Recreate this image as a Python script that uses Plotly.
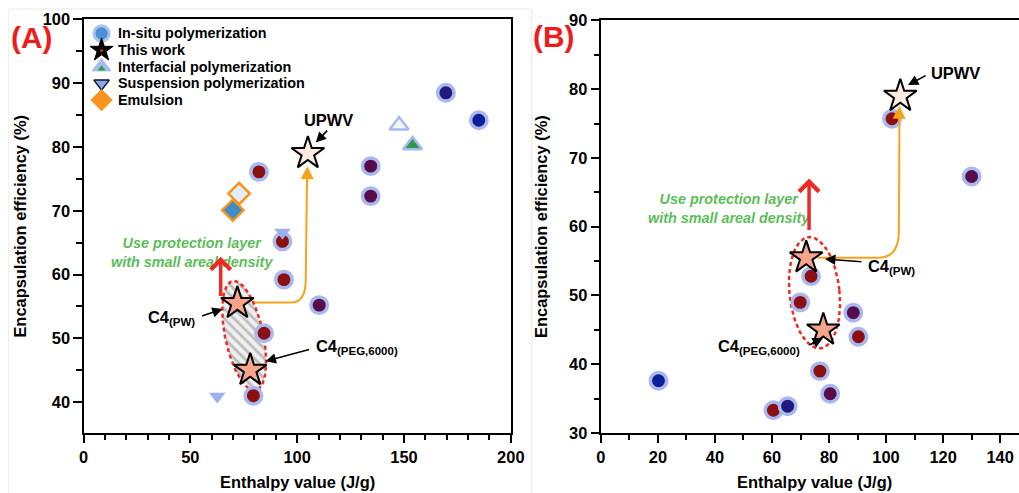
import numpy as np
import plotly.graph_objects as go

# Target box in pixels; all layout positions below are written in these
# pixels and mapped onto the plotly canvas through a small affine transform.
W, H = 1019, 493
SX, OX = 0.981, 4.5
SY, OY = 0.966, 8.5
FW = int(round((W - OX) / SX))
FH = int(round((H - OY) / SY))
SS = (SX + SY) / 2          # size factor for fonts and markers
FONT = "Liberation Sans"

# ---------------- data: panel (A) ----------------
a_insitu_red_x = [82.1, 93.1, 93.8, 84.5, 79.5]
a_insitu_red_y = [76.1, 65.2, 59.2, 50.8, 41.0]
a_insitu_purple_x = [110.3, 134.4, 134.4]
a_insitu_purple_y = [55.2, 77.0, 72.3]
a_insitu_navy_x = [169.6]
a_insitu_navy_y = [88.5]
a_insitu_blue_x = [185.0]
a_insitu_blue_y = [84.2]
a_interfacial_open_x = [147.7]
a_interfacial_open_y = [83.4]
a_interfacial_fill_x = [154.0]
a_interfacial_fill_y = [80.3]
a_suspension_x = [62.6, 93.1]
a_suspension_y = [40.9, 66.6]
a_emulsion_open_x = [72.8]
a_emulsion_open_y = [72.7]
a_emulsion_fill_x = [69.9]
a_emulsion_fill_y = [70.1]

# ---------------- data: panel (B) ----------------
b_insitu_red_x = [73.7, 69.9, 90.3, 76.8, 60.5, 102.1]
b_insitu_red_y = [52.8, 49.0, 44.0, 39.0, 33.3, 75.7]
b_insitu_purple_x = [88.5, 80.4, 130.0]
b_insitu_purple_y = [47.5, 35.7, 67.3]
b_insitu_navy_x = [65.5]
b_insitu_navy_y = [33.9]
b_insitu_blue_x = [20.2]
b_insitu_blue_y = [37.6]

# ---------------- this work (both panels) ----------------
work_names = ["C4(PW)", "C4(PEG,6000)", "UPWV"]
work_x = [72.0, 78.0, 105.0]
work_y = [55.5, 45.0, 79.0]

# ---------------- axes ----------------
a_xticks = [0, 50, 100, 150, 200]
a_yticks = [40, 50, 60, 70, 80, 90, 100]
b_xticks = [0, 20, 40, 60, 80, 100, 120, 140]
b_yticks = [30, 40, 50, 60, 70, 80, 90]

# pixel frames of the plot areas (left, right, top, bottom) and the axis
# values sitting on those frames
RIGHT_EDGE = OX + SX * FW
A_BOX = (83, 510, 19, 433)
B_BOX = (600, RIGHT_EDGE, 20, 433.3)
a_xrange, a_yrange = [0, 200], [35.2, 100]
b_xrange = [0, (RIGHT_EDGE - 600) / (399 / 140)]   # 0 at 600px, 140 at 999px
b_yrange = [30, 90]

RED = "#8a1012"
PURPLE = "#560d4a"
NAVY = "#211a7a"
BLUE = "#0b1f98"
HALO = "#a9b8ef"
ORANGE = "#f7a21b"
ARROW_RED = "#ec2b25"
GREEN = "#5cbd5a"
LIGHT = "#9cb0ec"


def fx(px):
    return min(1.0, max(0.0, (px - OX) / SX / FW))


def fy(py):
    return min(1.0, max(0.0, 1 - (py - OY) / SY / FH))


def sz(v):
    return v / SS


fig = go.Figure()


def scale(box, xr, yr):
    sx = (box[1] - box[0]) / (xr[1] - xr[0])
    sy = (box[3] - box[2]) / (yr[1] - yr[0])
    return sx, sy


def ellipse(cx, cy, a_px, b_px, tilt_deg, sx, sy, n=160):
    t = np.linspace(0, 2 * np.pi, n)
    th = np.radians(tilt_deg)
    lx, ly = b_px * np.cos(t), a_px * np.sin(t)
    px = lx * np.cos(th) + ly * np.sin(th)
    py = -lx * np.sin(th) + ly * np.cos(th)
    return cx + px / sx, cy - py / sy


def circles(x, y, color, xa, ya):
    fig.add_trace(go.Scatter(
        x=x, y=y, mode="markers", xaxis=xa, yaxis=ya, showlegend=False,
        marker=dict(symbol="circle", size=sz(16), color=color,
                    line=dict(color=HALO, width=3.5))))


def stars(xa, ya):
    fig.add_trace(go.Scatter(
        x=work_x, y=work_y, mode="markers", xaxis=xa, yaxis=ya,
        showlegend=False, text=work_names,
        marker=dict(symbol="star", size=sz(24),
                    color=["#f6a58a", "#f6a58a", "#fdebe1"],
                    line=dict(color="black", width=2))))


# ---------- panel A ----------
sxA, syA = scale(A_BOX, a_xrange, a_yrange)
ex, ey = ellipse(75.2, 50.4, 56, 19, 12, sxA, syA)
fig.add_trace(go.Scatter(
    x=ex, y=ey, mode="lines", fill="toself", xaxis="x", yaxis="y",
    showlegend=False, line=dict(color=ARROW_RED, width=2.5, dash="4px,3px"),
    fillcolor="#efefef",
    fillpattern=dict(shape="\\", fgcolor="#8c8c8c", bgcolor="#efefef",
                     size=7, solidity=0.4)))

circles(a_insitu_red_x, a_insitu_red_y, RED, "x", "y")
circles(a_insitu_purple_x, a_insitu_purple_y, PURPLE, "x", "y")
circles(a_insitu_navy_x, a_insitu_navy_y, NAVY, "x", "y")
circles(a_insitu_blue_x, a_insitu_blue_y, BLUE, "x", "y")

fig.add_trace(go.Scatter(
    x=a_suspension_x, y=a_suspension_y, mode="markers", showlegend=False,
    marker=dict(symbol="triangle-down", size=sz(14), color=LIGHT,
                line=dict(width=0))))
fig.add_trace(go.Scatter(
    x=a_interfacial_open_x, y=a_interfacial_open_y, mode="markers",
    showlegend=False,
    marker=dict(symbol="triangle-up", size=sz(16), color="#eef7f2",
                line=dict(color=HALO, width=2.5))))
fig.add_trace(go.Scatter(
    x=a_interfacial_fill_x, y=a_interfacial_fill_y, mode="markers",
    showlegend=False,
    marker=dict(symbol="triangle-up", size=sz(16), color="#2f9a4c",
                line=dict(color=HALO, width=2.5))))
fig.add_trace(go.Scatter(
    x=a_emulsion_open_x, y=a_emulsion_open_y, mode="markers",
    showlegend=False,
    marker=dict(symbol="diamond", size=sz(16), color="#e4eefa",
                line=dict(color="#f7931e", width=2.5))))
fig.add_trace(go.Scatter(
    x=a_emulsion_fill_x, y=a_emulsion_fill_y, mode="markers",
    showlegend=False,
    marker=dict(symbol="diamond", size=sz(16), color="#3b8ec6",
                line=dict(color="#f7931e", width=2.5))))
stars("x", "y")

# ---------- panel B ----------
sxB, syB = scale(B_BOX, b_xrange, b_yrange)
ex, ey = ellipse(74.9, 50.4, 56, 25, 6, sxB, syB)
fig.add_trace(go.Scatter(
    x=ex, y=ey, mode="lines", xaxis="x2", yaxis="y2", showlegend=False,
    line=dict(color=ARROW_RED, width=2.5, dash="4px,3px")))
circles(b_insitu_red_x, b_insitu_red_y, RED, "x2", "y2")
circles(b_insitu_purple_x, b_insitu_purple_y, PURPLE, "x2", "y2")
circles(b_insitu_navy_x, b_insitu_navy_y, NAVY, "x2", "y2")
circles(b_insitu_blue_x, b_insitu_blue_y, BLUE, "x2", "y2")
stars("x2", "y2")

# ---------- hand-built legend (pixel overlay axes x3/y3) ----------
legend_items = ["In-situ polymerization", "This work",
                "Interfacial polymerization", "Suspension polymerization",
                "Emulsion"]
leg_x, leg_y0, leg_dy = 101, 33, 16.7
leg_rows = [leg_y0 + i * leg_dy for i in range(len(legend_items))]
glyphs = [
    dict(symbol="circle", size=sz(15), color="#4c92d2",
         line=dict(color="#a9c4f0", width=3)),
    dict(symbol="star", size=sz(17), color="black",
         line=dict(color="black", width=1)),
    dict(symbol="triangle-up", size=sz(16), color="#a9baf0",
         line=dict(color="#a9baf0", width=1)),
    dict(symbol="triangle-down", size=sz(13), color="#8fa7ea",
         line=dict(color="#111133", width=1.5)),
    dict(symbol="diamond", size=sz(16), color="#f7941d",
         line=dict(color="#f7941d", width=1)),
]
for row, g in zip(leg_rows, glyphs):
    fig.add_trace(go.Scatter(x=[leg_x], y=[row], mode="markers",
                             xaxis="x3", yaxis="y3", showlegend=False,
                             hoverinfo="skip", marker=g))
# small centres of the star and triangle glyphs
fig.add_trace(go.Scatter(x=[leg_x], y=[leg_rows[1] + 0.5], mode="markers",
                         xaxis="x3", yaxis="y3", showlegend=False,
                         hoverinfo="skip",
                         marker=dict(symbol="circle", size=3, color="#e02020")))
fig.add_trace(go.Scatter(x=[leg_x], y=[leg_rows[2] + 2], mode="markers",
                         xaxis="x3", yaxis="y3", showlegend=False,
                         hoverinfo="skip",
                         marker=dict(symbol="triangle-up", size=sz(7),
                                     color="#35a04a")))

ann = []


def ptext(px, py, s, size, color="black", xanchor="center", angle=0):
    """Text placed in target pixels."""
    ann.append(dict(x=fx(px), y=fy(py), xref="paper", yref="paper",
                    text=s, showarrow=False, xanchor=xanchor,
                    yanchor="middle", textangle=angle,
                    font=dict(family=FONT, size=sz(size), color=color,
                              weight="bold")))


for row, name in zip(leg_rows, legend_items):
    ptext(115, row, name, 14, xanchor="left")


def text(x, y, s, xa, ya, size=15, color="black", xanchor="center"):
    ann.append(dict(x=x, y=y, xref=xa, yref=ya, text=s, showarrow=False,
                    xanchor=xanchor, yanchor="middle",
                    font=dict(family=FONT, size=sz(size), color=color,
                              weight="bold")))


def arrow(x0, y0, x1, y1, xa, ya, color="black", width=1.6, head=2,
          hsize=1.3):
    ann.append(dict(x=x1, y=y1, ax=x0, ay=y0, xref=xa, yref=ya, axref=xa,
                    ayref=ya, text="", showarrow=True, arrowhead=head,
                    arrowsize=hsize, arrowwidth=width, arrowcolor=color,
                    standoff=0, startstandoff=0))


# panel labels
ptext(31, 37, "(A)", 29, color="#ee1c1c")
ptext(553, 36, "(B)", 29, color="#ee1c1c")

green = "<i>Use protection layer<br>with small areal density</i>"
# panel A callouts
text(114.8, 84.2, "UPWV", "x", "y", size=16)
arrow(114.7, 82.8, 108.7, 80.7, "x", "y")
text(41.2, 53.2, "C4<sub>(PW)</sub>", "x", "y", size=16)
arrow(54.8, 53.4, 65.1, 54.6, "x", "y")
text(107.7, 48.6, "C4<sub>(PEG,6000)</sub>", "x", "y", size=16,
     xanchor="left")
arrow(106.3, 48.3, 85.2, 46.4, "x", "y")
text(50.6, 63.5, green, "x", "y", size=14, color=GREEN)
arrow(64.2, 56.4, 64.2, 62.8, "x", "y", color=ARROW_RED, width=3.5,
      head=4, hsize=1.1)
arrow(104.6, 73.5, 104.8, 77.0, "x", "y", color=ORANGE, width=2,
      head=2, hsize=1.3)

# panel B callouts
text(124.2, 82.3, "UPWV", "x2", "y2", size=16)
arrow(114.4, 82.1, 107.7, 80.6, "x2", "y2")
text(101.8, 54.1, "C4<sub>(PW)</sub>", "x2", "y2", size=16)
arrow(91.9, 54.9, 78.6, 55.3, "x2", "y2")
text(55.4, 42.5, "C4<sub>(PEG,6000)</sub>", "x2", "y2", size=16)
arrow(72.6, 42.7, 77.9, 43.8, "x2", "y2")
text(45.1, 62.6, green, "x2", "y2", size=14, color=GREEN)
arrow(73.0, 59.3, 73.0, 67.0, "x2", "y2", color=ARROW_RED, width=3.5,
      head=4, hsize=1.1)
arrow(104.5, 74.5, 104.7, 77.6, "x2", "y2", color=ORANGE, width=2,
      head=2, hsize=1.3)

# axis titles
ptext(296.5, 482, "Enthalpy value (J/g)", 16)
ptext(813, 482, "Enthalpy value (J/g)", 16)
ptext(20, 226, "Encapsulation efficiency (%)", 16, angle=-90)
ptext(540, 226, "Encapsulation efficiency (%)", 16, angle=-90)

# orange guide curves from C4(PW) up to UPWV
shapes = [
    dict(type="path", xref="x", yref="y", layer="below",
         path="M 76,55.6 L 97,55.6 Q 104,55.6 104,59.2 L 104.6,75",
         line=dict(color=ORANGE, width=2)),
    dict(type="path", xref="x2", yref="y2", layer="below",
         path="M 76,55.5 L 97.5,55.5 Q 104.5,55.5 104.5,59.5 L 104.7,76",
         line=dict(color=ORANGE, width=2)),
    # faint outlines of the two panel tiles
    dict(type="line", xref="paper", yref="paper", x0=fx(531), x1=fx(531),
         y0=0, y1=1, line=dict(color="#e6e6e6", width=1)),
    dict(type="line", xref="paper", yref="paper", x0=fx(8), x1=fx(531),
         y0=fy(6.5), y1=fy(6.5), line=dict(color="#ebebeb", width=1)),
    dict(type="line", xref="paper", yref="paper", x0=fx(8), x1=fx(8),
         y0=0, y1=fy(6.5), line=dict(color="#f0f0f0", width=1)),
]


def xax(box, rng, ticks, minor):
    return dict(domain=[fx(box[0]), fx(box[1])], range=rng, tickvals=ticks,
                ticks="outside", ticklen=sz(8), tickwidth=2,
                tickcolor="black",
                showline=True, linewidth=2, linecolor="black",
                showgrid=False, zeroline=False,
                minor=dict(ticks="outside", ticklen=sz(5), tickwidth=2,
                           tickcolor="black", dtick=minor, tick0=0,
                           showgrid=False),
                tickfont=dict(family=FONT, size=sz(16), color="black",
                              weight="bold"))


def yax(box, rng, ticks, mirror):
    d = xax((OX, OX), rng, ticks, 5)
    d["domain"] = [fy(box[3]), fy(box[2])]
    d["mirror"] = mirror
    return d


xa = xax(A_BOX, a_xrange, a_xticks, 10)
xa.update(mirror=True, anchor="y")
ya = yax(A_BOX, a_yrange, a_yticks, True)
ya.update(anchor="x")
xb = xax(B_BOX, b_xrange, b_xticks, 10)
xb.update(mirror=True, anchor="y2")
yb = yax(B_BOX, b_yrange, b_yticks, False)
yb.update(anchor="x2")

fig.update_layout(
    width=FW, height=FH, margin=dict(l=0, r=0, t=0, b=0),
    paper_bgcolor="white", plot_bgcolor="rgba(0,0,0,0)",
    xaxis=xa, yaxis=ya, xaxis2=xb, yaxis2=yb,
    xaxis3=dict(domain=[0, 1], range=[OX, OX + SX * FW], visible=False,
                fixedrange=True, anchor="y3"),
    yaxis3=dict(domain=[0, 1], range=[OY + SY * FH, OY], visible=False,
                fixedrange=True, anchor="x3"),
    annotations=ann, shapes=shapes, showlegend=False,
    font=dict(family=FONT),
)

fig.write_html("out.html")
